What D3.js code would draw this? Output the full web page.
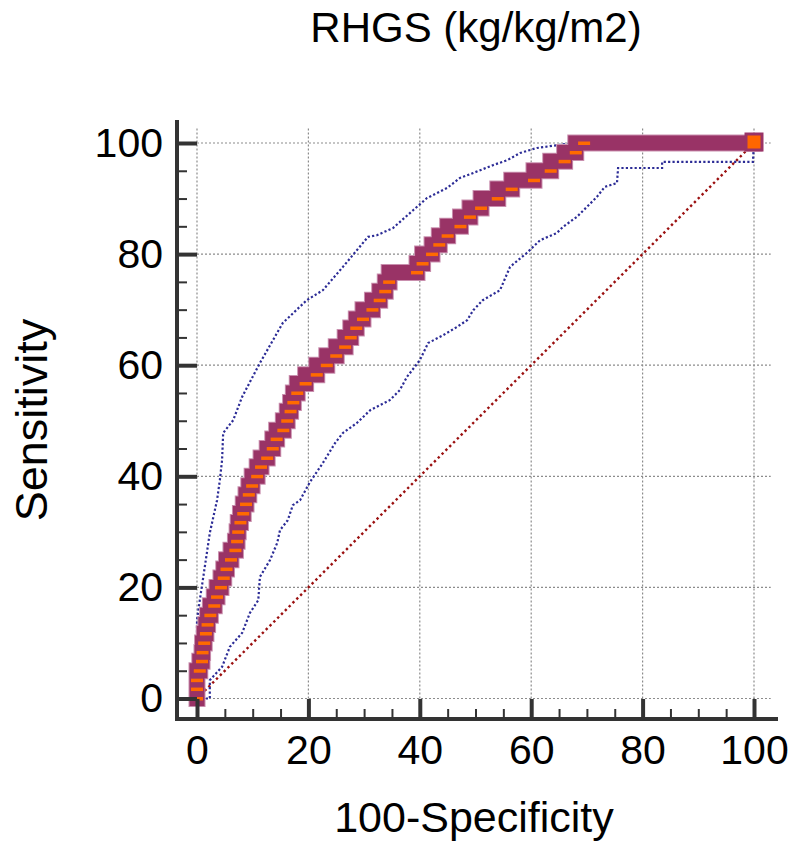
<!DOCTYPE html>
<html><head><meta charset="utf-8">
<script src="https://cdn.jsdelivr.net/npm/d3@7/dist/d3.min.js"></script>
<style>body{margin:0;background:#fff}</style>
</head><body><svg id="c" width="793" height="844"></svg>
<script>
const title = "RHGS (kg/kg/m2)";
const xLabel = "100-Specificity";
const yLabel = "Sensitivity";
const majorTicks = [0, 20, 40, 60, 80, 100];
const minorTicks = [5, 10, 15, 25, 30, 35, 45, 50, 55, 65, 70, 75, 85, 90, 95];

// ROC curve (100-Specificity, Sensitivity)
const rocFpr  = [0, 0, 0, 0.5, 0.9, 1.0, 1.3, 1.6, 1.9, 2.4, 3.1, 3.6, 4.3, 4.8, 5.3, 6.1, 6.9, 7.2, 7.4, 7.8, 8.3, 8.8, 9.3, 9.9, 10.8, 11.5, 12.6, 13.6, 14.3, 15.5, 16.2, 16.8, 17.3, 18.0, 19.5, 21.5, 23.3, 25.0, 26.6, 27.6, 28.6, 29.8, 31.5, 32.8, 33.8, 34.5, 39.5, 40.5, 42.2, 43.5, 45.0, 47.3, 49.0, 51.0, 54.0, 56.5, 60.5, 63.5, 66.0, 68.0, 69.5, 100];
const rocSens = [0, 1.7, 3.3, 5.0, 6.7, 8.3, 10.0, 11.7, 13.3, 15.0, 16.7, 18.3, 20.0, 21.7, 23.3, 25.0, 26.7, 28.3, 30.0, 31.7, 33.3, 35.0, 36.7, 38.3, 40.0, 41.7, 43.3, 45.0, 46.7, 48.3, 50.0, 51.7, 53.3, 55.0, 56.7, 58.3, 60.0, 61.7, 63.3, 65.0, 66.7, 68.3, 70.0, 71.7, 73.3, 75.0, 76.7, 78.3, 80.0, 81.7, 83.3, 85.0, 86.7, 88.3, 90.0, 91.7, 93.3, 95.0, 96.7, 98.3, 100, 100];

// 95% confidence bounds
const upperFpr  = [0, 0, 0.5, 1.4, 2.3, 3.6, 4.1, 4.5, 4.7, 6.5, 8.1, 11.3, 15.4, 19.7, 22.6, 26.2, 28.7, 30.7, 32.3, 35.2, 38.8, 41.3, 44.9, 47.2, 49.6, 53.1, 55.7, 58.0, 61.0, 64.6, 67.5, 100];
const upperSens = [0, 14.1, 17.7, 23.7, 29.8, 35.7, 39.3, 42.9, 47.8, 50.1, 54.3, 60.4, 67.6, 71.7, 73.5, 77.7, 80.7, 83.1, 83.4, 84.7, 87.9, 90.1, 91.9, 93.7, 94.6, 96.0, 96.9, 98.2, 99.1, 99.6, 100, 100];
const lowerFpr  = [0, 2.3, 2.3, 4.5, 5.9, 8.1, 9.5, 11.0, 11.3, 13.1, 14.4, 14.9, 16.3, 17.2, 18.5, 20.3, 22.6, 24.8, 26.2, 28.7, 31.1, 34.6, 36.4, 37.7, 40.0, 41.5, 44.2, 46.7, 48.5, 49.6, 51.3, 54.4, 56.2, 59.2, 61.6, 64.6, 65.7, 68.2, 70.0, 71.8, 73.2, 75.4, 75.6, 83.5, 83.5, 99.8, 100];
const lowerSens = [0, 0, 3.3, 5.7, 9.3, 11.8, 15.4, 17.7, 21.9, 24.9, 28.0, 30.3, 32.1, 34.8, 35.7, 39.0, 42.4, 46.0, 47.8, 49.6, 51.9, 53.7, 55.5, 57.9, 60.9, 64.0, 65.4, 66.9, 68.1, 69.9, 71.7, 73.5, 77.7, 80.2, 82.5, 83.8, 84.9, 86.7, 88.5, 90.3, 92.1, 92.8, 95.5, 95.5, 96.6, 96.6, 100];

const diagFpr = [0, 100];
const diagSens = [0, 100];

const svg = d3.select("#c");
const x = d3.scaleLinear().domain([0, 100]).range([197, 754]);
const y = d3.scaleLinear().domain([0, 100]).range([698.5, 143]);
const FONT = "'Liberation Sans', Arial, sans-serif";

// grid
const g = svg.append("g");
majorTicks.forEach(t => {
  g.append("line").attr("x1", x(0)).attr("x2", x(103)).attr("y1", y(t)).attr("y2", y(t))
    .attr("stroke", "#8c8c8c").attr("stroke-width", 1.2).attr("stroke-dasharray", "2,2");
  g.append("line").attr("x1", x(t)).attr("x2", x(t)).attr("y1", y(0)).attr("y2", y(102.7))
    .attr("stroke", "#8c8c8c").attr("stroke-width", 1.2).attr("stroke-dasharray", "2,2");
});

// diagonal
const line = (xs, ys) => d3.line()(xs.map((v, i) => [x(v), y(ys[i])]));
svg.append("path").attr("d", line(diagFpr, diagSens)).attr("fill", "none")
  .attr("stroke", "#9b1010").attr("stroke-width", 2.4).attr("stroke-dasharray", "2.4,3");

// CI
[[upperFpr, upperSens], [lowerFpr, lowerSens]].forEach(([xs, ys]) => {
  svg.append("path").attr("d", line(xs, ys)).attr("fill", "none")
    .attr("stroke", "#2c2c96").attr("stroke-width", 2.2).attr("stroke-dasharray", "2.2,2.2");
});

// ROC band
const stepLine = d3.line().curve(d3.curveStepBefore);
const rocPts = rocFpr.map((v, i) => [x(v), y(rocSens[i])]);
svg.append("path").attr("d", stepLine(rocPts)).attr("fill", "none")
  .attr("stroke", "#c98fae").attr("stroke-width", 17).attr("stroke-linejoin", "miter").attr("stroke-linecap", "square");
svg.append("path").attr("d", stepLine(rocPts)).attr("fill", "none")
  .attr("stroke", "#993366").attr("stroke-width", 15).attr("stroke-linejoin", "miter").attr("stroke-linecap", "square");

// markers
rocPts.slice(0, rocPts.length - 1).forEach(p => {
  svg.append("rect").attr("x", p[0] - 6).attr("y", p[1] - 1.5).attr("width", 12).attr("height", 3.5).attr("fill", "#ff6a00");
});
const last = rocPts[rocPts.length - 1];
svg.append("rect").attr("x", last[0] - 8).attr("y", last[1] - 9).attr("width", 16).attr("height", 16)
  .attr("fill", "#ff6600").attr("stroke", "#993366").attr("stroke-width", 3);

// axes
const axG = svg.append("g").attr("transform", "translate(177,0)");
axG.call(d3.axisLeft(y).tickValues(majorTicks).tickSizeInner(-20).tickSizeOuter(0).tickPadding(14));
const axGm = svg.append("g").attr("transform", "translate(177,0)");
axGm.call(d3.axisLeft(y).tickValues(minorTicks).tickSizeInner(-10).tickSizeOuter(0).tickFormat(""));
const axB = svg.append("g").attr("transform", "translate(0,719)");
axB.call(d3.axisBottom(x).tickValues(majorTicks).tickSizeInner(-20).tickSizeOuter(0).tickPadding(16));
const axBm = svg.append("g").attr("transform", "translate(0,719)");
axBm.call(d3.axisBottom(x).tickValues(minorTicks).tickSizeInner(-10).tickSizeOuter(0).tickFormat(""));
svg.selectAll(".domain").remove();
[axG, axB].forEach(a => a.selectAll(".tick line").attr("stroke", "#333").attr("stroke-width", 4));
[axGm, axBm].forEach(a => a.selectAll(".tick line").attr("stroke", "#333").attr("stroke-width", 2));
svg.selectAll(".tick text").attr("font-family", FONT).attr("font-size", 41).attr("fill", "#000");
axB.selectAll(".tick text").attr("dy", "0.71em");
svg.append("line").attr("x1", 177).attr("x2", 177).attr("y1", 120).attr("y2", 721)
  .attr("stroke", "#333").attr("stroke-width", 4);
svg.append("line").attr("x1", 175).attr("x2", 778).attr("y1", 719).attr("y2", 719)
  .attr("stroke", "#333").attr("stroke-width", 4);

// titles
svg.append("text").attr("x", 476).attr("y", 42).attr("text-anchor", "middle")
  .attr("font-family", FONT).attr("font-size", 42).text(title);
svg.append("text").attr("x", 474).attr("y", 832).attr("text-anchor", "middle")
  .attr("font-family", FONT).attr("font-size", 43).text(xLabel);
svg.append("text").attr("transform", "translate(47,420) rotate(-90)").attr("text-anchor", "middle")
  .attr("font-family", FONT).attr("font-size", 45).text(yLabel);
</script></body></html>
